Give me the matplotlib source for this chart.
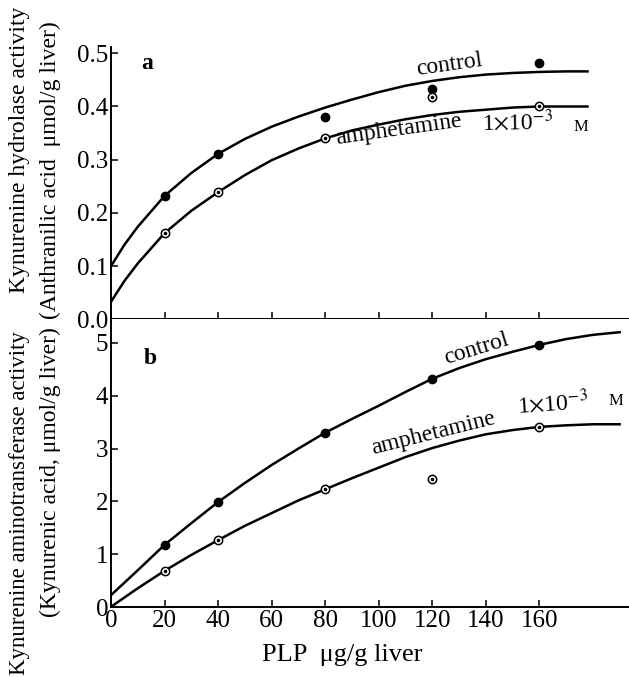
import matplotlib
matplotlib.use('Agg')
import matplotlib.pyplot as plt

plt.rcParams['font.family'] = ['Liberation Serif', 'DejaVu Serif']
plt.rcParams['mathtext.fontset'] = 'stix'

# measured points (PLP ug/g liver)
doses = [20, 40, 80, 120, 160]
a_control = [0.232, 0.311, 0.380, 0.432, 0.481]
a_amph = [0.162, 0.239, 0.340, 0.418, 0.401]
b_control = [1.18, 1.99, 3.30, 4.32, 4.96]
b_amph = [0.69, 1.27, 2.23, 2.43, 3.41]

# hand drawn curves
a_curve_x = [0, 5, 10, 20, 30, 40, 50, 60, 70, 80, 90, 100, 110, 120, 130, 140, 150, 160, 170, 178]
a_curve_control = [0.100, 0.140, 0.174, 0.232, 0.275, 0.311, 0.339, 0.362, 0.381, 0.398,
                   0.413, 0.427, 0.439, 0.448, 0.455, 0.460, 0.463, 0.465, 0.466, 0.466]
a_curve_amph = [0.033, 0.072, 0.105, 0.162, 0.204, 0.239, 0.271, 0.299, 0.321, 0.340,
                0.355, 0.366, 0.376, 0.384, 0.390, 0.394, 0.398, 0.400, 0.400, 0.400]
b_curve_x = [0, 10, 20, 30, 40, 50, 60, 70, 80, 90, 100, 110, 120, 130, 140, 150, 160, 170, 180, 190]
b_curve_control = [0.23, 0.70, 1.18, 1.59, 1.99, 2.35, 2.69, 3.00, 3.30, 3.56,
                   3.81, 4.07, 4.32, 4.52, 4.69, 4.83, 4.96, 5.07, 5.15, 5.20]
b_curve_amph = [0.01, 0.36, 0.69, 0.99, 1.27, 1.54, 1.78, 2.02, 2.23, 2.44,
                2.64, 2.84, 3.01, 3.15, 3.27, 3.35, 3.41, 3.44, 3.46, 3.46]

x_ticks = [0, 20, 40, 60, 80, 100, 120, 140, 160]
a_yticks = [0.0, 0.1, 0.2, 0.3, 0.4, 0.5]
b_yticks = [0, 1, 2, 3, 4, 5]

W, H = 629, 677
fig = plt.figure(figsize=(W / 100, H / 100), dpi=100)
left = 111 / W
axa = fig.add_axes([left, 1 - 319.3 / H, 1 - left, (319.3 - 46.7) / H])
axb = fig.add_axes([left, 1 - 607.3 / H, 1 - left, (607.3 - 319.3) / H])

fs = 17

def style(ax):
    for s in ['top', 'right']:
        ax.spines[s].set_visible(False)
    for s in ['left', 'bottom']:
        ax.spines[s].set_linewidth(1.4)
    ax.tick_params(direction='in', length=5, width=1.1, labelsize=18, pad=2)
    ax.set_xlim(0, 193.5)
    ax.set_xticks(x_ticks)

def open_pts(ax, x, y):
    ax.plot(x, y, 'o', ms=6, mfc='white', mec='black', mew=1.1, zorder=4)
    ax.plot(x, y, 'o', ms=1.6, color='black', zorder=5)

style(axa)
axa.set_ylim(0, 0.5124)
axa.set_yticks(a_yticks)
axa.set_yticklabels(['%.1f' % v for v in a_yticks])
axa.tick_params(axis='x', labelbottom=False)
axa.plot(a_curve_x, a_curve_control, color='black', lw=1.8)
axa.plot(a_curve_x, a_curve_amph, color='black', lw=1.8)
axa.plot(doses, a_control, 'o', ms=6, color='black', zorder=4)
open_pts(axa, doses, a_amph)
axa.text(13.5, 0.481, 'a', fontsize=fs, fontweight='bold', ha='center', va='center')
axa.text(126.4, 0.478, 'control', fontsize=fs, rotation=8, ha='center', va='center')
axa.text(107.3, 0.356, 'amphetamine', fontsize=fs, rotation=8, ha='center', va='center')
axa.text(152, 0.370, '1$\\times$10$^{-3}$', fontsize=fs, rotation=1, ha='center', va='center')
axa.text(175.5, 0.362, 'M', fontsize=12, ha='center', va='center')

style(axb)
axb.set_ylim(0, 5.444)
axb.set_yticks(b_yticks)
axb.set_xticklabels([str(v) for v in x_ticks])
axb.plot(b_curve_x, b_curve_control, color='black', lw=1.8)
axb.plot(b_curve_x, b_curve_amph, color='black', lw=1.8)
axb.plot(doses, b_control, 'o', ms=6, color='black', zorder=4)
open_pts(axb, doses, b_amph)
axb.text(14.6, 4.71, 'b', fontsize=fs, fontweight='bold', ha='center', va='center')
axb.text(136.4, 4.88, 'control', fontsize=fs, rotation=17, ha='center', va='center')
axb.text(120.4, 3.29, 'amphetamine', fontsize=fs, rotation=14, ha='center', va='center')
axb.text(165, 3.85, '1$\\times$10$^{-3}$', fontsize=fs, rotation=4, ha='center', va='center')
axb.text(188.5, 3.90, 'M', fontsize=12, ha='center', va='center')

# axis titles
fig.text(342 / W, 1 - 655 / H, 'PLP  μg/g liver', fontsize=19, ha='center', va='center')
fig.text(20 / W, 1 - 150 / H, 'Kynurenine hydrolase activity', fontsize=fs,
         rotation=90, ha='center', va='center')
fig.text(50 / W, 1 - 170 / H, '(Anthranilic acid  μmol/g liver)', fontsize=fs,
         rotation=90, ha='center', va='center')
fig.text(20 / W, 1 - 503 / H, 'Kynurenine aminotransferase activity', fontsize=16.5,
         rotation=90, ha='center', va='center')
fig.text(50 / W, 1 - 472 / H, '(Kynurenic acid, μmol/g liver)', fontsize=fs,
         rotation=90, ha='center', va='center')

fig.savefig('out.png', dpi=100)
